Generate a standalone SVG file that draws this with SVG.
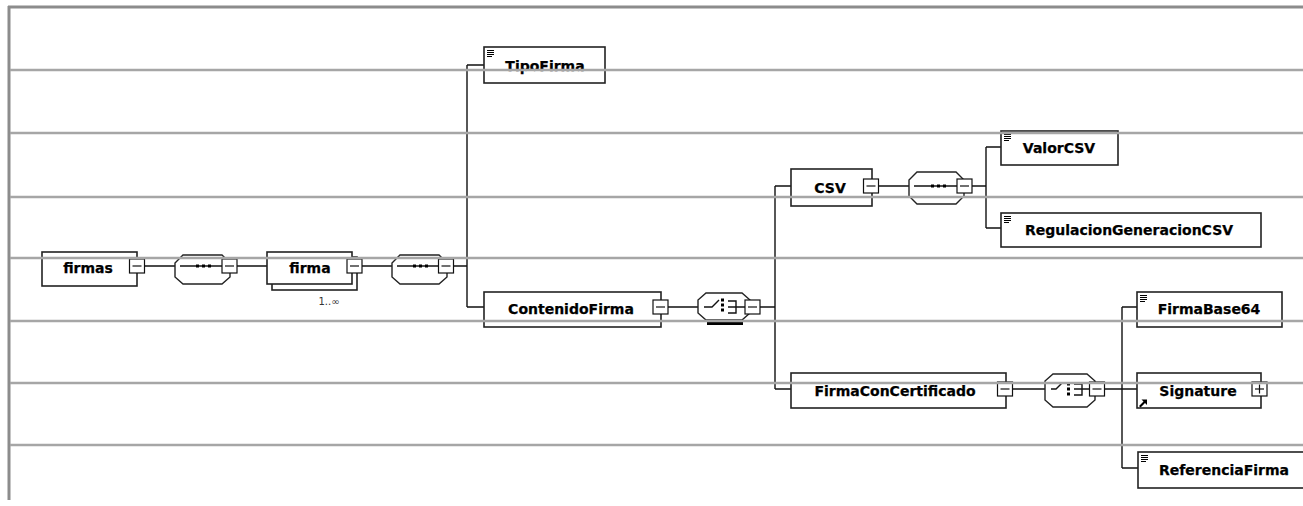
<svg xmlns="http://www.w3.org/2000/svg" xmlns:xlink="http://www.w3.org/1999/xlink" width="1303" height="506" viewBox="0 0 1303 506">
<style>
.box{fill:#fff;stroke:#222;stroke-width:1.6}
.lbl{font-family:"DejaVu Sans",sans-serif;font-weight:bold;font-size:14px;fill:#000;stroke:#000;stroke-width:0.25;text-anchor:middle}
.small{font-family:"DejaVu Sans",sans-serif;font-size:10px;fill:#333;text-anchor:middle}
.tg{fill:#fff;stroke:#111;stroke-width:1.2}
.tgl{stroke:#111;stroke-width:1.2}
.cn{fill:none;stroke:#111;stroke-width:1.4}
.grid{stroke:#a6a6a6;stroke-width:2.5}
.frame{stroke:#8c8c8c;stroke-width:3}
.comp{fill:#fff;stroke:#222;stroke-width:1.4}
.ic{stroke:#000;stroke-width:1}
.dot{fill:#000}
</style>
<defs>
<g id="minus"><rect class="tg" x="-7.5" y="-7" width="15" height="14"/><line class="tgl" x1="-4.5" y1="0" x2="4.5" y2="0"/></g>
<g id="plus"><rect class="tg" x="-7.5" y="-7" width="15" height="14"/><line class="tgl" x1="-4.5" y1="0" x2="4.5" y2="0"/><line class="tgl" x1="0" y1="-4.5" x2="0" y2="4.5"/></g>
<g id="simple"><line class="ic" x1="3" y1="3.5" x2="10" y2="3.5"/><line class="ic" x1="3" y1="5.5" x2="10" y2="5.5"/><line class="ic" x1="3" y1="7.5" x2="10" y2="7.5"/><line class="ic" x1="3" y1="9.5" x2="8" y2="9.5"/></g>
</defs>

<g id="connectors">
<path class="cn" d="M145,266 H175 M237,266 H267 M362,266 H392 M453,266 H467 M467,65 V307 M467,65 H484 M467,307 H484"/>
<path class="cn" d="M668,307 H698 M760,307 H775 M775,186 V389 M775,186 H791 M775,389 H791"/>
<path class="cn" d="M878,186 H909 M972,186 H986 M986,147 V228 M986,147 H1001 M986,228 H1001"/>
<path class="cn" d="M1012,389 H1045 M1104,389 H1122 M1122,307 V468 M1122,307 H1137 M1122,389 H1137 M1122,468 H1138"/>
</g>

<g id="firmas">
<rect class="box" x="42" y="252" width="95" height="34"/>
<text class="lbl" x="88" y="273">firmas</text>
<use xlink:href="#minus" x="137" y="266"/>
</g>

<g id="seq1">
<polygon class="comp" points="183,255 222,255 230,263 230,277 222,284 183,284 175,277 175,263"/>
<line class="cn" x1="180" y1="266" x2="222" y2="266"/>
<rect class="dot" x="196" y="264.5" width="3" height="3"/><rect class="dot" x="202" y="264.5" width="3" height="3"/><rect class="dot" x="208" y="264.5" width="3" height="3"/>
<use xlink:href="#minus" x="229.5" y="266"/>
</g>

<g id="firma">
<rect class="box" x="272" y="257" width="85" height="33"/>
<rect class="box" x="267" y="252" width="85" height="32"/>
<text class="lbl" x="310" y="273">firma</text>
<use xlink:href="#minus" x="354.5" y="266"/>
<text class="small" x="329" y="305">1..∞</text>
</g>

<g id="seq2">
<polygon class="comp" points="400,255 439,255 447,263 447,277 439,284 400,284 392,277 392,263"/>
<line class="cn" x1="397" y1="266" x2="439" y2="266"/>
<rect class="dot" x="413" y="264.5" width="3" height="3"/><rect class="dot" x="419" y="264.5" width="3" height="3"/><rect class="dot" x="425" y="264.5" width="3" height="3"/>
<use xlink:href="#minus" x="446" y="266"/>
</g>

<g id="TipoFirma">
<rect class="box" x="484" y="47" width="121" height="36"/>
<use xlink:href="#simple" x="484" y="47"/>
<text class="lbl" x="545" y="71">TipoFirma</text>
</g>

<g id="ContenidoFirma">
<rect class="box" x="484" y="292" width="177" height="35"/>
<text class="lbl" x="571" y="314">ContenidoFirma</text>
<use xlink:href="#minus" x="660.5" y="307"/>
</g>

<g id="choice1">
<polygon class="comp" points="706,293 742,293 750,300 750,313 742,320 706,320 698,313 698,300"/>
<path class="cn" d="M704,307 H712 L719,300 M728,301 H736 V313 H728 M728,307 H745"/>
<rect class="dot" x="721" y="298.5" width="3" height="3"/><rect class="dot" x="721" y="303.5" width="3" height="3"/><rect class="dot" x="721" y="308.5" width="3" height="3"/>
<use xlink:href="#minus" x="752.5" y="307"/>
<rect class="dot" x="707" y="322" width="36" height="3"/>
</g>

<g id="CSV">
<rect class="box" x="791" y="169" width="81" height="37"/>
<text class="lbl" x="830" y="193">CSV</text>
<use xlink:href="#minus" x="871" y="186"/>
</g>

<g id="seq3">
<polygon class="comp" points="917,172 956,172 964,180 964,196 956,204 917,204 909,196 909,180"/>
<line class="cn" x1="914" y1="186" x2="957" y2="186"/>
<rect class="dot" x="931" y="184.5" width="3" height="3"/><rect class="dot" x="937" y="184.5" width="3" height="3"/><rect class="dot" x="943" y="184.5" width="3" height="3"/>
<use xlink:href="#minus" x="964.5" y="186"/>
</g>

<g id="ValorCSV">
<rect class="box" x="1001" y="131" width="117" height="34"/>
<use xlink:href="#simple" x="1001" y="131"/>
<text class="lbl" x="1059" y="153">ValorCSV</text>
</g>

<g id="RegulacionGeneracionCSV">
<rect class="box" x="1001" y="213" width="260" height="34"/>
<use xlink:href="#simple" x="1001" y="213"/>
<text class="lbl" x="1129" y="235">RegulacionGeneracionCSV</text>
</g>

<g id="FirmaConCertificado">
<rect class="box" x="791" y="373" width="215" height="35"/>
<text class="lbl" x="895" y="396">FirmaConCertificado</text>
<use xlink:href="#minus" x="1005" y="389"/>
</g>

<g id="choice2">
<polygon class="comp" points="1053,374 1087,374 1095,381 1095,400 1087,407 1053,407 1045,400 1045,381"/>
<path class="cn" d="M1051,389 H1056 L1062,383 M1074,384 H1082 V395 H1074 M1074,389 H1089"/>
<rect class="dot" x="1067" y="382.5" width="3" height="3"/><rect class="dot" x="1067" y="387.5" width="3" height="3"/><rect class="dot" x="1067" y="392.5" width="3" height="3"/>
<use xlink:href="#minus" x="1097" y="389"/>
</g>

<g id="FirmaBase64">
<rect class="box" x="1137" y="292" width="145" height="35"/>
<use xlink:href="#simple" x="1137" y="292"/>
<text class="lbl" x="1209" y="314">FirmaBase64</text>
</g>

<g id="Signature">
<rect class="box" x="1137" y="373" width="124" height="35"/>
<text class="lbl" x="1198" y="396">Signature</text>
<use xlink:href="#plus" x="1259.5" y="389"/>
<path class="dot" d="M1139,406 L1143.5,401.5 L1141.5,399.5 L1147,399.5 L1147,405 L1145,403 L1140.5,407.5 Z"/>
</g>

<g id="ReferenciaFirma">
<rect class="box" x="1138" y="452" width="172" height="36"/>
<use xlink:href="#simple" x="1138" y="452"/>
<text class="lbl" x="1224" y="475">ReferenciaFirma</text>
</g>

<g id="gridlines">
<line class="frame" x1="9" y1="6" x2="9" y2="500"/>
<line class="frame" x1="8" y1="7" x2="1303" y2="7"/>
<line class="grid" x1="10" y1="70" x2="1303" y2="70"/>
<line class="grid" x1="10" y1="133" x2="1303" y2="133"/>
<line class="grid" x1="10" y1="197" x2="1303" y2="197"/>
<line class="grid" x1="10" y1="258" x2="1303" y2="258"/>
<line class="grid" x1="10" y1="321" x2="1303" y2="321"/>
<line class="grid" x1="10" y1="383" x2="1303" y2="383"/>
<line class="grid" x1="10" y1="445" x2="1303" y2="445"/>
</g>
</svg>
